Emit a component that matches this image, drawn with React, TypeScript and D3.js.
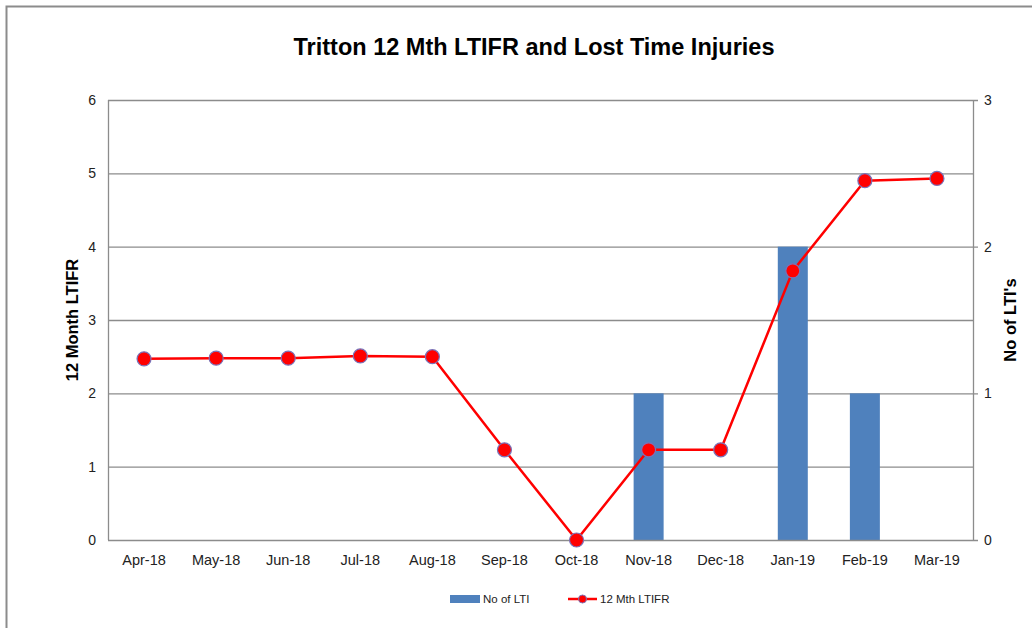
import React, { useEffect, useRef } from 'react';
import * as d3 from 'd3';

const months = ['Apr-18', 'May-18', 'Jun-18', 'Jul-18', 'Aug-18', 'Sep-18', 'Oct-18', 'Nov-18', 'Dec-18', 'Jan-19', 'Feb-19', 'Mar-19'];
const ltiCounts = [0, 0, 0, 0, 0, 0, 0, 1, 0, 2, 1, 0];
const ltifr = [2.47, 2.48, 2.48, 2.51, 2.5, 1.23, 0, 1.23, 1.23, 3.67, 4.9, 4.93];
const leftTicks = [0, 1, 2, 3, 4, 5, 6];
const rightTicks = [0, 1, 2, 3];

const W = 1032;
const H = 628;
const FONT = 'Liberation Sans, Arial, sans-serif';

const App = () => {
  const ref = useRef<SVGSVGElement>(null);

  useEffect(() => {
    const svg = d3.select(ref.current);
    svg.selectAll('*').remove();

    const left = 108;
    const right = 973;
    const top = 100;
    const bottom = 540;

    // frame
    svg.append('path')
      .attr('d', `M6.5,${H + 10} L6.5,6.5 L${W + 10},6.5`)
      .attr('fill', 'none')
      .attr('stroke', '#8c8c8c')
      .attr('stroke-width', 2);

    const x = d3.scaleBand().domain(months).range([left, right]);
    const yL = d3.scaleLinear().domain([0, 6]).range([bottom, top]);
    const yR = d3.scaleLinear().domain([0, 3]).range([bottom, top]);

    // gridlines
    svg.append('g')
      .selectAll('line')
      .data(leftTicks.filter((d) => d > 0))
      .enter()
      .append('line')
      .attr('x1', left)
      .attr('x2', (d) => (d % 2 === 0 ? right + 5 : right))
      .attr('y1', (d) => yL(d) + 0.5)
      .attr('y2', (d) => yL(d) + 0.5)
      .attr('stroke', '#8c8c8c')
      .attr('stroke-width', 1.3);

    // bars
    const barW = 30;
    svg.append('g')
      .selectAll('rect')
      .data(months.map((m, i) => ({ m, v: ltiCounts[i] })).filter((d) => d.v > 0))
      .enter()
      .append('rect')
      .attr('x', (d) => (x(d.m) as number) + x.bandwidth() / 2 - barW / 2)
      .attr('y', (d) => yR(d.v))
      .attr('width', barW)
      .attr('height', (d) => bottom - yR(d.v))
      .attr('fill', '#4f81bd');

    // axes lines
    svg.append('line')
      .attr('x1', left + 0.5).attr('x2', left + 0.5)
      .attr('y1', top).attr('y2', bottom)
      .attr('stroke', '#8c8c8c').attr('stroke-width', 1.3);
    svg.append('line')
      .attr('x1', right + 0.5).attr('x2', right + 0.5)
      .attr('y1', top).attr('y2', bottom)
      .attr('stroke', '#8c8c8c').attr('stroke-width', 1.3);
    svg.append('line')
      .attr('x1', left).attr('x2', right + 5)
      .attr('y1', bottom + 0.5).attr('y2', bottom + 0.5)
      .attr('stroke', '#8c8c8c').attr('stroke-width', 1.3);

    // tick labels
    svg.append('g')
      .selectAll('text')
      .data(leftTicks)
      .enter()
      .append('text')
      .attr('x', 96)
      .attr('y', (d) => yL(d) + 5)
      .attr('text-anchor', 'end')
      .style('font-family', FONT)
      .style('font-size', '14px')
      .style('fill', '#222')
      .text((d) => d);

    svg.append('g')
      .selectAll('text')
      .data(rightTicks)
      .enter()
      .append('text')
      .attr('x', 984)
      .attr('y', (d) => yR(d) + 5)
      .attr('text-anchor', 'start')
      .style('font-family', FONT)
      .style('font-size', '14px')
      .style('fill', '#222')
      .text((d) => d);

    svg.append('g')
      .selectAll('text')
      .data(months)
      .enter()
      .append('text')
      .attr('x', (d) => (x(d) as number) + x.bandwidth() / 2)
      .attr('y', 565)
      .attr('text-anchor', 'middle')
      .style('font-family', FONT)
      .style('font-size', '14.5px')
      .style('fill', '#222')
      .text((d) => d);

    // line series
    const line = d3.line<number>()
      .x((d, i) => (x(months[i]) as number) + x.bandwidth() / 2)
      .y((d) => yL(d));

    svg.append('path')
      .datum(ltifr)
      .attr('d', line)
      .attr('fill', 'none')
      .attr('stroke', '#ff0000')
      .attr('stroke-width', 2.5);

    svg.append('g')
      .selectAll('circle')
      .data(ltifr)
      .enter()
      .append('circle')
      .attr('cx', (d, i) => (x(months[i]) as number) + x.bandwidth() / 2)
      .attr('cy', (d) => yL(d))
      .attr('r', 7)
      .attr('fill', '#ff0000')
      .attr('stroke', '#7a72b8')
      .attr('stroke-width', 1.2);

    // titles
    svg.append('text')
      .attr('x', 534)
      .attr('y', 55)
      .attr('text-anchor', 'middle')
      .style('font-family', FONT)
      .style('font-weight', 'bold')
      .style('font-size', '23.5px')
      .style('fill', '#000')
      .text('Tritton 12 Mth LTIFR and Lost Time Injuries');

    svg.append('text')
      .attr('transform', `translate(78,${(top + bottom) / 2}) rotate(-90)`)
      .attr('text-anchor', 'middle')
      .style('font-family', FONT)
      .style('font-weight', 'bold')
      .style('font-size', '16.5px')
      .style('fill', '#000')
      .text('12 Month LTIFR');

    svg.append('text')
      .attr('transform', `translate(1016,${(top + bottom) / 2}) rotate(-90)`)
      .attr('text-anchor', 'middle')
      .style('font-family', FONT)
      .style('font-weight', 'bold')
      .style('font-size', '16.5px')
      .style('fill', '#000')
      .text("No of LTI's");

    // legend
    const leg = svg.append('g').style('font-family', FONT).style('font-size', '11.5px');
    leg.append('rect').attr('x', 450).attr('y', 595).attr('width', 30).attr('height', 8).attr('fill', '#4f81bd');
    leg.append('text').attr('x', 483).attr('y', 603).style('fill', '#222').text('No of LTI');
    leg.append('line').attr('x1', 568).attr('x2', 597).attr('y1', 599).attr('y2', 599)
      .attr('stroke', '#ff0000').attr('stroke-width', 2.5);
    leg.append('circle').attr('cx', 582.5).attr('cy', 599).attr('r', 4)
      .attr('fill', '#ff0000').attr('stroke', '#7a72b8').attr('stroke-width', 1);
    leg.append('text').attr('x', 600).attr('y', 603).style('fill', '#222').text('12 Mth LTIFR');
  }, []);

  return (
    <svg ref={ref} width={W} height={H} style={{ position: 'absolute', left: 0, top: 0, background: '#fff' }} />
  );
};

export default App;
